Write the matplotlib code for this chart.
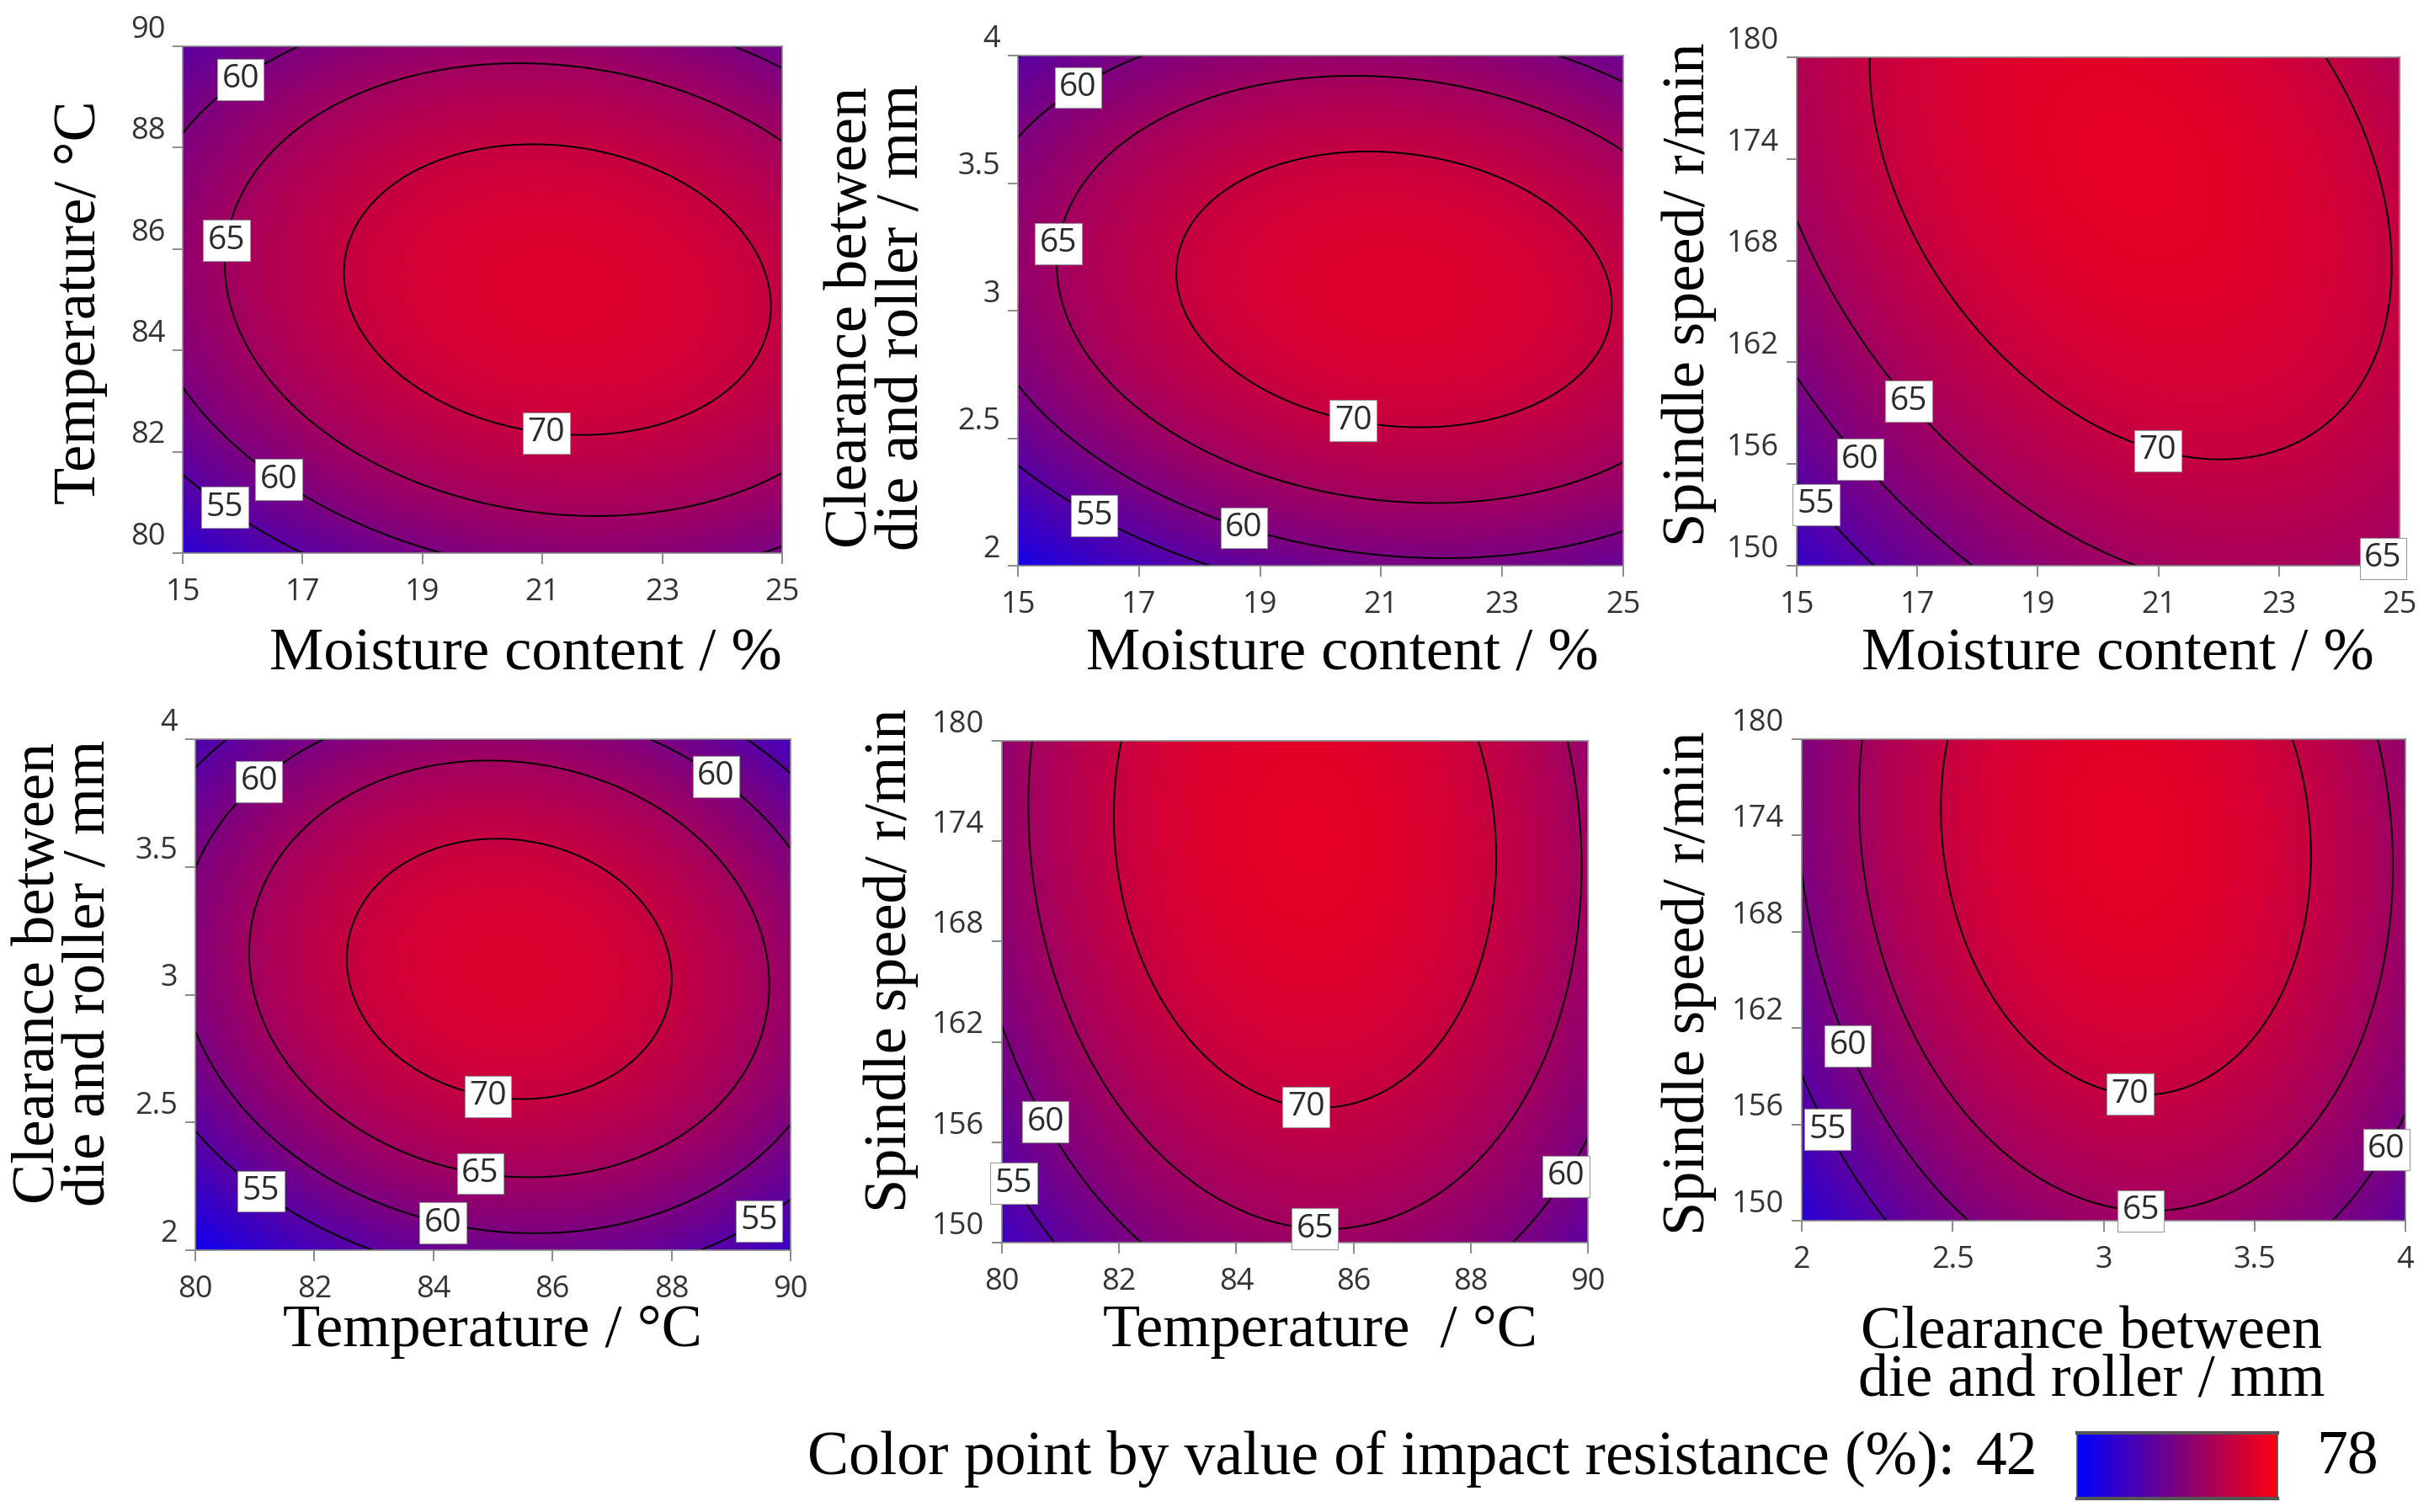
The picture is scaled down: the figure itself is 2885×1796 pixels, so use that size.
import numpy as np
import matplotlib
matplotlib.use("Agg")
import matplotlib.pyplot as plt
from matplotlib.colors import LinearSegmentedColormap
import matplotlib.transforms as mtransforms

# ---------------- data ----------------
# factor ranges (low, high): moisture %, temperature C, clearance mm, spindle speed r/min
factor_low = [15, 80, 2, 150]
factor_high = [25, 90, 4, 180]

# coded quadratic response model for impact resistance (%)
intercept = 73.03
linear_coef = [3.58, 1.36, 2.6, 4.9]
quad_coef = [-7.0, -10.8, -12.4, -3.93]
inter_coef = {(0, 1): -2.0, (0, 2): -2.2, (0, 3): -3.6,
              (1, 2): -1.8, (1, 3): -1.0, (2, 3): -1.25}

contour_levels = [55, 60, 65, 70]
color_min, color_max = 42, 78

tick_values = {
    0: [15, 17, 19, 21, 23, 25],
    1: [80, 82, 84, 86, 88, 90],
    2: [2, 2.5, 3, 3.5, 4],
    3: [150, 156, 162, 168, 174, 180],
}

panel_pairs = [(0, 1), (0, 2), (0, 3), (1, 2), (1, 3), (2, 3)]
x_titles = ["Moisture content / %", "Moisture content / %", "Moisture content / %",
            "Temperature / \u00b0C", "Temperature  / \u00b0C",
            "Clearance between\ndie and roller / mm"]
y_titles = ["Temperature/ \u00b0C", "Clearance between\ndie and roller / mm",
            "Spindle speed/ r/min", "Clearance between\ndie and roller / mm",
            "Spindle speed/ r/min", "Spindle speed/ r/min"]

# contour label placements (level, x, y)
label_spots = [
    [(60, 15.8, 89.56), (65, 15.8, 86.16), (70, 21.13, 82.8), (60, 16.9, 81.8), (55, 16.0, 81.26)],
    [(60, 15.85, 3.91), (65, 15.78, 3.26), (70, 20.64, 2.65), (55, 16.51, 2.27), (60, 18.89, 2.23)],
    [(65, 17.15, 160.3), (60, 16.37, 157.0), (55, 15.64, 154.3), (70, 21.14, 158.1), (65, 24.5, 151.4)],
    [(60, 80.93, 3.86), (60, 88.98, 3.91), (70, 85.0, 2.69), (65, 84.87, 2.39),
     (60, 84.26, 2.19), (55, 81.32, 2.28), (55, 89.24, 2.18)],
    [(60, 81.0, 157.6), (55, 80.48, 154.0), (70, 85.25, 159.6), (65, 85.36, 152.2), (60, 89.47, 154.2)],
    [(60, 2.19, 161.1), (55, 2.12, 155.9), (70, 3.10, 159.4), (65, 3.13, 152.1), (60, 3.90, 154.7)],
]

# ---------------- layout (pixels in a 2885x1796 canvas) ----------------
W, H = 2885, 1796
axes_px = [  # left, right, top, bottom
    (217, 929, 55, 657),
    (1209, 1928, 66, 672),
    (2134, 2850, 68, 672),
    (232, 939, 878, 1485),
    (1190, 1886, 880, 1476),
    (2140, 2857, 878, 1450),
]
xlabel_px = [(624, 778), (1594, 778), (2515, 778), (585, 1582), (1568, 1582), (2484, 1612)]
ylabel_px = [(96, 359), (1042, 377), (2006, 350), (77, 1156), (1058, 1141), (2006, 1168)]

serif = "Liberation Serif"
sans = "Open Sans"

cmap = LinearSegmentedColormap.from_list(
    "impact", [(0.0, "#0000ff"), (0.5, "#7d0080"), (1.0, "#ff0010")])

fig = plt.figure(figsize=(W / 100, H / 100), dpi=100)
fig.patch.set_facecolor("white")


def coded(v, k):
    mid = (factor_low[k] + factor_high[k]) / 2.0
    half = (factor_high[k] - factor_low[k]) / 2.0
    return (v - mid) / half


def response(i, j, X, Y):
    a = coded(X, i)
    b = coded(Y, j)
    return (intercept + linear_coef[i] * a + linear_coef[j] * b
            + quad_coef[i] * a ** 2 + quad_coef[j] * b ** 2
            + inter_coef[(i, j)] * a * b)


for p, (i, j) in enumerate(panel_pairs):
    l, r, t, btm = axes_px[p]
    ax = fig.add_axes([l / W, 1 - btm / H, (r - l) / W, (btm - t) / H])
    xs = np.linspace(factor_low[i], factor_high[i], 400)
    ys = np.linspace(factor_low[j], factor_high[j], 400)
    X, Y = np.meshgrid(xs, ys)
    Z = response(i, j, X, Y)
    ax.imshow(Z, origin="lower", aspect="auto", cmap=cmap, vmin=color_min, vmax=color_max,
              extent=[xs[0], xs[-1], ys[0], ys[-1]], interpolation="bilinear")
    cs = ax.contour(X, Y, Z, levels=contour_levels, colors="black", linewidths=1.4)
    ax.set_xlim(factor_low[i], factor_high[i])
    ax.set_ylim(factor_low[j], factor_high[j])

    xr = factor_high[i] - factor_low[i]
    yr = factor_high[j] - factor_low[j]
    for lev, px, py in label_spots[p]:
        k = contour_levels.index(lev)
        segs = [s for s in cs.allsegs[k] if len(s)]
        if not segs:
            continue
        pts = np.vstack(segs)
        d = ((pts[:, 0] - px) / xr) ** 2 + ((pts[:, 1] - py) / yr) ** 2
        qx, qy = pts[np.argmin(d)]
        ax.text(qx, qy, f"{lev:g}", ha="center", va="center", fontsize=28,
                family=sans, color="#2a2a2a", zorder=5,
                bbox=dict(boxstyle="square,pad=0.14", fc="white", ec="#999999", lw=0.8))

    ax.set_xticks(tick_values[i])
    ax.set_xticklabels([f"{v:g}" for v in tick_values[i]])
    ax.set_yticks(tick_values[j])
    ax.set_yticklabels([f"{v:g}" for v in tick_values[j]])
    ax.tick_params(direction="out", length=9, width=1.2, color="#777777",
                   labelsize=26, labelcolor="#333333")
    ax.tick_params(axis="x", pad=12)
    ax.tick_params(axis="y", pad=6)
    for lbl in ax.get_xticklabels() + ax.get_yticklabels():
        lbl.set_family(sans)
    off = mtransforms.ScaledTranslation(0, 17 / 72, fig.dpi_scale_trans)
    for lbl in ax.get_yticklabels():
        lbl.set_transform(lbl.get_transform() + off)
    for s in ax.spines.values():
        s.set_color("#8a8a8a")
        s.set_linewidth(1.2)

    ax.set_xlabel(x_titles[p], family=serif, fontsize=52, color="black", linespacing=0.86)
    ax.set_ylabel(y_titles[p], family=serif, fontsize=52, color="black", linespacing=0.92)
    xlx, xly = xlabel_px[p]
    ax.xaxis.set_label_coords((xlx - l) / (r - l), (btm - xly) / (btm - t))
    ax.xaxis.label.set_va("center")
    ylx, yly = ylabel_px[p]
    ax.yaxis.set_label_coords((ylx - l) / (r - l), (btm - yly) / (btm - t))
    ax.yaxis.label.set_va("center")

# ---------------- colour key ----------------
cb_l, cb_r, cb_t, cb_b = 2467, 2705, 1702, 1780
cax = fig.add_axes([cb_l / W, 1 - cb_b / H, (cb_r - cb_l) / W, (cb_b - cb_t) / H])
cax.imshow(np.linspace(color_min, color_max, 256)[None, :], aspect="auto", cmap=cmap,
           vmin=color_min, vmax=color_max, extent=[color_min, color_max, 0, 1])
cax.set_xticks([])
cax.set_yticks([])
for s in cax.spines.values():
    s.set_color("#555555")
    s.set_linewidth(1.2)
cax.spines["top"].set_linewidth(3)
cax.spines["bottom"].set_linewidth(3)

fig.text(2322 / W, 1 - 1733 / H, "Color point by value of impact resistance (%):",
         ha="right", va="center", family=serif, fontsize=53)
fig.text(2383 / W, 1 - 1733 / H, f"{color_min}", ha="center", va="center",
         family=serif, fontsize=53)
fig.text(2788 / W, 1 - 1733 / H, f"{color_max}", ha="center", va="center",
         family=serif, fontsize=53)

fig.savefig("out.png", dpi=100, facecolor="white")
